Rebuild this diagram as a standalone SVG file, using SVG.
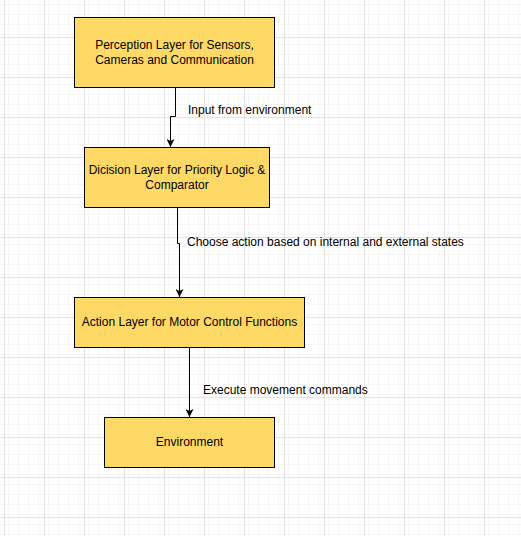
<svg xmlns="http://www.w3.org/2000/svg" width="521" height="536" viewBox="0 0 521 536">
  <defs>
    <pattern id="minor" width="10" height="10" patternUnits="userSpaceOnUse" x="4" y="-3">
      <path d="M0.5 0 V10 M0 0.5 H10" fill="none" stroke="#f6f6f6" stroke-width="1"/>
    </pattern>
    <pattern id="major" width="40" height="40" patternUnits="userSpaceOnUse" x="4" y="-3">
      <rect width="40" height="40" fill="url(#minor)"/>
      <path d="M0.5 0 V40 M0 0.5 H40" fill="none" stroke="#e2e2e2" stroke-width="1"/>
    </pattern>
    <marker id="arrow" viewBox="0 0 8 8" refX="8" refY="4" markerWidth="8" markerHeight="8" markerUnits="userSpaceOnUse" orient="auto">
      <path d="M0,0 L8,4 L0,8 L2,4 Z" fill="#000"/>
    </marker>
  </defs>
  <style>
    .node rect { fill: #FFD966; stroke: #000; stroke-width: 1; }
    .node text { font-family: "Liberation Sans", Arial, sans-serif; font-size: 12px; fill: #000; text-anchor: middle; }
    .edge { fill: none; stroke: #000; stroke-width: 1; marker-end: url(#arrow); }
    .label { font-family: "Liberation Sans", Arial, sans-serif; font-size: 12px; fill: #000; }
  </style>
  <rect width="521" height="536" fill="#ffffff"/>
  <rect width="521" height="536" fill="url(#major)"/>

  <g id="connectors">
    <path class="edge" d="M175.5 87.5 V116.5 H170.5 V147"/>
    <text class="label" x="188" y="113.5">Input from environment</text>
    <path class="edge" d="M177.5 207.5 V243.5 H179.5 V297"/>
    <text class="label" x="187" y="245.5">Choose action based on internal and external states</text>
    <path class="edge" d="M189.5 347.5 V417"/>
    <text class="label" x="203" y="393.5">Execute movement commands</text>
  </g>

  <g id="perception" class="node">
    <rect x="74.5" y="17.5" width="200" height="70"/>
    <text x="174.5" y="48.5">Perception Layer for Sensors,</text>
    <text x="174.5" y="63.5">Cameras and Communication</text>
  </g>
  <g id="decision" class="node">
    <rect x="84.5" y="147.5" width="185" height="60"/>
    <text x="177" y="173.5">Dicision Layer for Priority Logic &amp;</text>
    <text x="177" y="188.5">Comparator</text>
  </g>
  <g id="action" class="node">
    <rect x="74.5" y="297.5" width="230" height="50"/>
    <text x="189.5" y="326">Action Layer for Motor Control Functions</text>
  </g>
  <g id="environment" class="node">
    <rect x="104.5" y="417.5" width="170" height="50"/>
    <text x="189.5" y="446">Environment</text>
  </g>
</svg>
